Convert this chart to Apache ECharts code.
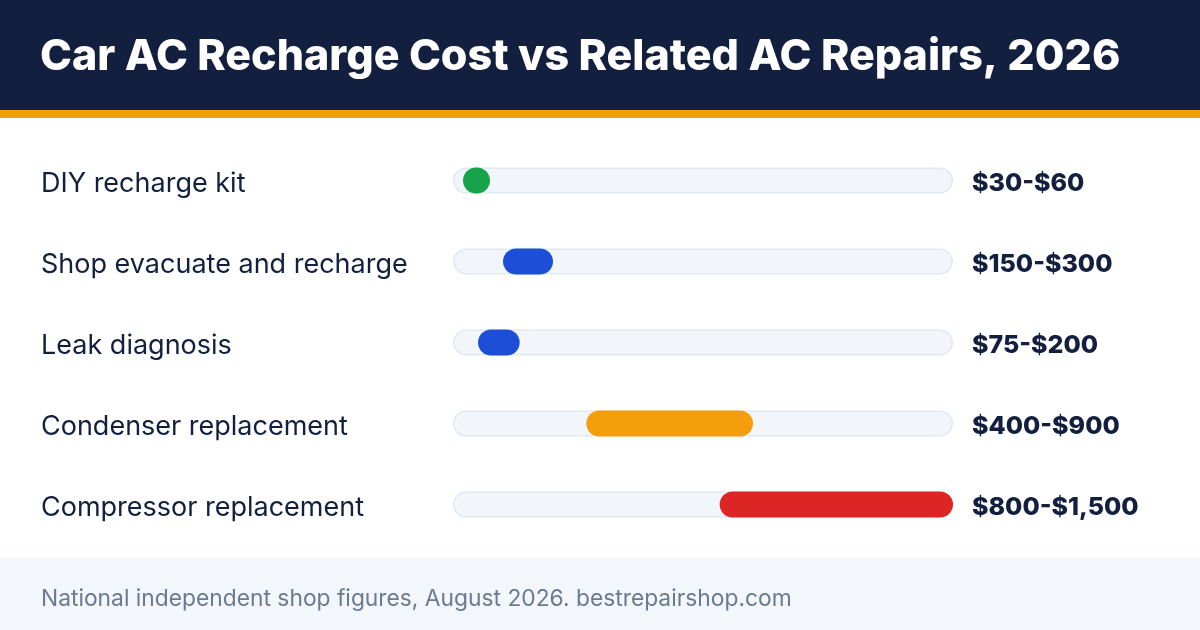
<!DOCTYPE html>
<html lang="en">
<head>
    <meta charset="utf-8">
    <title>Car AC Recharge Cost</title>
    <script src="https://cdn.jsdelivr.net/npm/echarts@6/dist/echarts.min.js"></script>
    <style>
        html, body { margin: 0; padding: 0; background: #fff; }
        #chart { width: 1200px; height: 630px; }
    </style>
</head>
<body>
<div id="chart"></div>
<script>
    // data
    var categories = ['DIY recharge kit', 'Shop evacuate and recharge', 'Leak diagnosis', 'Condenser replacement', 'Compressor replacement'];
    var lowCost = [30, 150, 75, 400, 800];
    var highCost = [60, 300, 200, 900, 1500];
    var rangeLabels = ['$30-$60', '$150-$300', '$75-$200', '$400-$900', '$800-$1,500'];
    var barColors = ['#16a34a', '#1d4ed8', '#1d4ed8', '#f59e0b', '#dc2626'];
    var scaleMax = 1500;

    var navy = '#121f3e';
    var font = 'Inter';

    var chart = echarts.init(document.getElementById('chart'), null, { renderer: 'canvas' });

    var rangeData = [];
    var trackData = [];
    for (var i = 0; i < categories.length; i++) {
        rangeData.push([i, lowCost[i], highCost[i]]);
        trackData.push(scaleMax);
    }

    var BAR_H = 26;

    var option = {
        backgroundColor: '#ffffff',
        animation: false,
        title: {
            text: 'Car AC Recharge Cost vs Related AC Repairs, 2026',
            left: 40,
            top: 36,
            padding: 0,
            textStyle: { color: '#ffffff', fontFamily: font, fontWeight: 800, fontSize: 43 }
        },
        graphic: [
            { type: 'rect', z: -10, shape: { x: 0, y: 0, width: 1200, height: 110 }, style: { fill: navy } },
            { type: 'rect', z: -10, shape: { x: 0, y: 110, width: 1200, height: 8 }, style: { fill: '#f59e0b' } },
            { type: 'rect', z: -10, shape: { x: 0, y: 558, width: 1200, height: 72 }, style: { fill: '#f3f6fb' } },
            {
                type: 'text', left: 41, top: 588,
                style: { text: 'National independent shop figures, August 2026. bestrepairshop.com', fill: '#6b7a90', font: '22.8px ' + font }
            }
        ],
        grid: { left: 453, right: 247, top: 140, bottom: 85 },
        xAxis: {
            type: 'value', min: 0, max: scaleMax,
            show: false
        },
        yAxis: [
            {
                type: 'category', data: categories, inverse: true,
                axisLine: { show: false }, axisTick: { show: false },
                axisLabel: {
                    align: 'left', margin: 412,
                    formatter: function (v) { return '{a|' + v + '}'; },
                    rich: { a: { color: navy, fontFamily: font, fontSize: 27, padding: [6, 0, 0, 0] } }
                }
            },
            {
                type: 'category', data: rangeLabels, inverse: true, position: 'right',
                axisLine: { show: false }, axisTick: { show: false },
                axisLabel: {
                    align: 'left', margin: 19,
                    formatter: function (v) { return '{b|' + v + '}'; },
                    rich: { b: { color: navy, fontFamily: font, fontWeight: 800, fontSize: 25, padding: [6, 0, 0, 0] } }
                }
            }
        ],
        series: [
            {
                type: 'bar', data: trackData, barWidth: BAR_H, silent: true,
                itemStyle: { color: '#f2f5fa', borderColor: '#e2e8f0', borderWidth: 1.5, borderRadius: BAR_H / 2 }
            },
            {
                type: 'custom',
                data: rangeData,
                encode: { x: [1, 2], y: 0 },
                z: 5,
                renderItem: function (params, api) {
                    var idx = api.value(0);
                    var start = api.coord([api.value(1), idx]);
                    var end = api.coord([api.value(2), idx]);
                    var w = Math.max(end[0] - start[0], BAR_H + 1);
                    return {
                        type: 'rect',
                        shape: { x: start[0], y: start[1] - BAR_H / 2, width: w, height: BAR_H, r: BAR_H / 2 },
                        style: { fill: barColors[idx] }
                    };
                }
            }
        ]
    };

    chart.setOption(option);
</script>
</body>
</html>
